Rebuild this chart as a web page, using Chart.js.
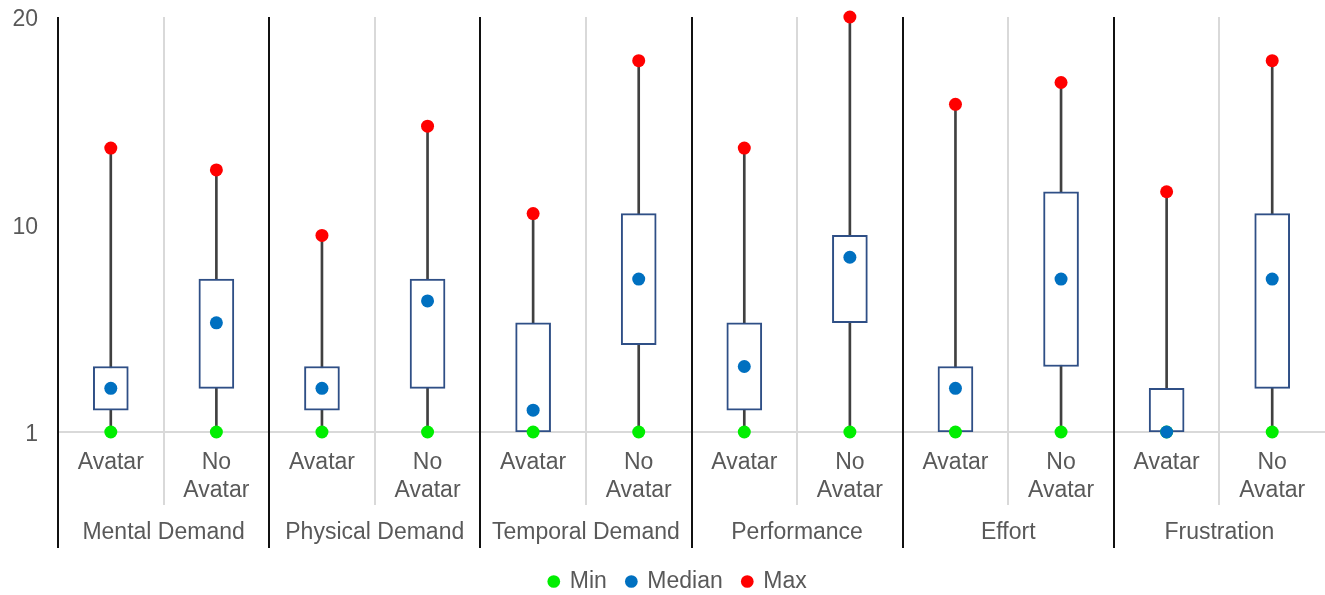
<!DOCTYPE html>
<html>
<head>
<meta charset="utf-8">
<script src="https://cdn.jsdelivr.net/npm/chart.js@4.4.1/dist/chart.umd.min.js"></script>
<style>
  html, body { margin: 0; padding: 0; background: #fff; overflow: hidden; }
  #wrap { width: 1325px; height: 595px; position: relative; }
</style>
</head>
<body>
<div id="wrap"><canvas id="chart"></canvas></div>
<script>
// categories, two per group
const categories = ['Avatar', ['No', 'Avatar'], 'Avatar', ['No', 'Avatar'], 'Avatar', ['No', 'Avatar'],
                    'Avatar', ['No', 'Avatar'], 'Avatar', ['No', 'Avatar'], 'Avatar', ['No', 'Avatar']];
const groups = ['Mental Demand', 'Physical Demand', 'Temporal Demand', 'Performance', 'Effort', 'Frustration'];

const mins    = [1, 1, 1, 1, 1, 1, 1, 1, 1, 1, 1, 1];
const q1s     = [2, 3, 2, 3, 1, 5, 2, 6, 1, 4, 1, 3];
const medians = [3, 6, 3, 7, 2, 8, 4, 9, 3, 8, 1, 8];
const q3s     = [4, 8, 4, 8, 6, 11, 6, 10, 4, 12, 3, 11];
const maxs    = [14, 13, 10, 15, 11, 18, 14, 20, 16, 17, 12, 18];

const yTickValues = [1, 10.5, 20];
const yTickLabels = ['1', '10', '20'];

const FONT = { family: "'Liberation Sans', Arial, sans-serif", size: 23 };
const TEXT = '#595959';

// group separators (black) and category separators (gray)
const separators = {
    id: 'separators',
    afterLayout(chart) {
        // center the legend under the plot like the original
        chart.legend.left += 31;
        chart.legend.top -= 2;
        chart.legend.bottom -= 2;
    },
    beforeDatasetsDraw(chart) {
        const ctx = chart.ctx;
        const x = chart.scales.x;
        const area = chart.chartArea;
        const half = (x.getPixelForValue(1) - x.getPixelForValue(0)) / 2;
        ctx.save();
        ctx.lineWidth = 2;
        for (let i = 0; i < categories.length; i++) {
            const px = Math.round(x.getPixelForValue(i) - half);
            const major = i % 2 === 0;
            ctx.strokeStyle = major ? '#111111' : '#d9d9d9';
            ctx.beginPath();
            ctx.moveTo(px, area.top);
            ctx.lineTo(px, area.bottom + (major ? 116 : 73));
            ctx.stroke();
        }
        ctx.restore();
    }
};

const points = (label, data, color, order) => ({
    type: 'line',
    label,
    data,
    order,
    showLine: false,
    pointRadius: 6.5,
    pointHoverRadius: 6.5,
    pointBorderWidth: 0,
    pointBackgroundColor: color,
    backgroundColor: color,
    borderColor: color,
    xAxisID: 'x',
    clip: false
});

const fitX = h => scale => {
    scale.height = h;
    scale.paddingLeft = 0;
    scale.paddingRight = 0;
};

new Chart(document.getElementById('chart'), {
    type: 'bar',
    data: {
        labels: categories,
        datasets: [
            points('Min', mins, '#00EE00', 2),
            points('Median', medians, '#0070C0', 1),
            points('Max', maxs, '#FF0000', 0),
            {
                label: 'box',
                data: q1s.map((v, i) => [v, q3s[i]]),
                order: 3,
                grouped: false,
                barThickness: 35,
                backgroundColor: '#ffffff',
                borderColor: '#2F4F86',
                borderWidth: 2,
                borderSkipped: false,
                xAxisID: 'x'
            },
            {
                label: 'whisker',
                data: mins.map((v, i) => [v, maxs[i]]),
                order: 4,
                grouped: false,
                barThickness: 2,
                backgroundColor: '#404040',
                borderWidth: 0,
                xAxisID: 'x'
            }
        ]
    },
    options: {
        responsive: true,
        maintainAspectRatio: false,
        animation: false,
        layout: { autoPadding: false, padding: { top: 17, left: 0, right: 0, bottom: -10 } },
        plugins: {
            tooltip: { enabled: false },
            legend: {
                position: 'bottom',
                labels: {
                    usePointStyle: true,
                    pointStyle: 'circle',
                    boxWidth: 9,
                    boxHeight: 9,
                    padding: 20,
                    color: TEXT,
                    font: FONT,
                    filter: item => ['Min', 'Median', 'Max'].includes(item.text),
                    sort: (a, b) => a.datasetIndex - b.datasetIndex
                }
            }
        },
        scales: {
            x: {
                type: 'category',
                position: 'bottom',
                offset: true,
                grid: { display: false, drawTicks: false },
                border: { display: true, color: '#d9d9d9', width: 2 },
                afterFit: fitX(72),
                ticks: {
                    color: TEXT,
                    font: { ...FONT, lineHeight: 1.2 },
                    padding: 17,
                    autoSkip: false,
                    maxRotation: 0
                }
            },
            xg: {
                type: 'category',
                position: 'bottom',
                labels: groups,
                offset: true,
                grid: { display: false, drawTicks: false },
                border: { display: false },
                afterFit: fitX(48),
                ticks: {
                    color: TEXT,
                    font: { ...FONT, lineHeight: 1.2 },
                    padding: 15,
                    autoSkip: false,
                    maxRotation: 0
                }
            },
            y: {
                min: 1,
                max: 20,
                grid: { display: false, drawTicks: true, tickLength: 17 },
                border: { display: false },
                afterBuildTicks: scale => {
                    scale.ticks = yTickValues.map(v => ({ value: v }));
                },
                afterFit: scale => { scale.width = 58; },
                ticks: {
                    color: TEXT,
                    font: FONT,
                    padding: 3,
                    labelOffset: 3,
                    callback: (value) => yTickLabels[yTickValues.indexOf(value)]
                }
            }
        }
    },
    plugins: [separators]
});
</script>
</body>
</html>
